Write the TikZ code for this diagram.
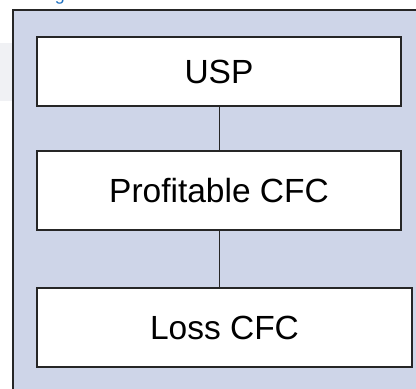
\documentclass[tikz,border=0pt]{standalone}
\usepackage{fontspec}
\setmainfont{Liberation Sans}
\usepackage{xcolor}
\usepackage{tikz}

\definecolor{panelblue}{RGB}{206,213,232}
\definecolor{stripgray}{RGB}{240,241,244}
\definecolor{linkblue}{RGB}{28,110,190}
\definecolor{edgegray}{RGB}{38,38,38}

\tikzset{
  box/.style={draw=edgegray, fill=white, line width=1.4pt, inner sep=0pt,
    minimum width=364pt, minimum height=79pt,
    font=\fontsize{33.5}{40}\selectfont},
  link/.style={edgegray, line width=1pt}
}

\begin{document}
\begin{tikzpicture}[x=1pt,y=-1pt]
            \useasboundingbox (0,0) rectangle (416,389);
            \clip (0,0) rectangle (416,389);
            \fill[white] (0,0) rectangle (416,389);

            % page bits around the panel
            \fill[stripgray] (0,43) rectangle (13,101);
            \node[anchor=base, inner sep=0pt, text=linkblue,
              font=\fontsize{18}{20}\selectfont] at (60,0) (tail) {g};

            % the panel itself
            \fill[panelblue] (13,10) rectangle (430,400);
            \draw[edgegray, line width=2.2pt] (13,400) -- (13,10) -- (430,10);

            % the three boxes
            \node[box, minimum height=69pt] at (219,71.5) (usp) {USP};
            \node[box] at (219,190.5) (profit) {Profitable CFC};
            \node[box, minimum width=375pt] at (224.5,327.5) (loss) {Loss CFC};

            \draw[link] (usp.south) -- (profit.north);
            \draw[link] (profit.south) -- (profit.south |- loss.north);
        \end{tikzpicture}
\end{document}
